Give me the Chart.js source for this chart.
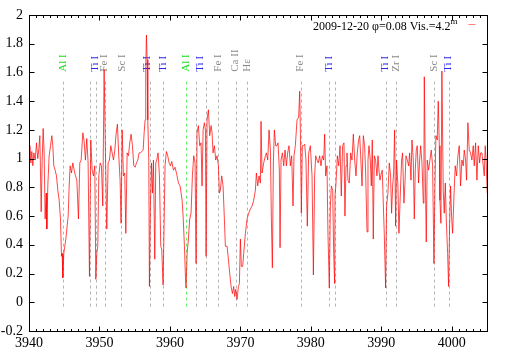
<!DOCTYPE html>
<html>
<head>
<meta charset="utf-8">
<script src="https://cdn.jsdelivr.net/npm/chart.js@4/dist/chart.umd.min.js"></script>
<style>
  html, body { margin: 0; padding: 0; background: #fff; }
</style>
</head>
<body>
<canvas id="myChart" width="509" height="356"></canvas>
<script>
// spectrum (wavelength in A, normalised flux)
const wavelength = [
  3940.00,3940.12,3940.26,3940.40,3940.54,3940.69,3940.88,3941.06,3941.25,3941.40,
  3941.54,3941.73,3941.87,3942.01,3942.15,3942.29,3942.44,3942.53,3942.67,3942.86,
  3943.05,3943.24,3943.38,3943.52,3943.71,3943.90,3944.09,3944.28,3944.47,3944.61,
  3944.71,3944.80,3944.94,3945.08,3945.23,3945.41,3945.56,3945.70,3945.84,3946.03,
  3946.22,3946.41,3946.60,3946.79,3947.02,3947.21,3947.40,3947.64,3947.83,3948.01,
  3948.20,3948.39,3948.58,3948.77,3948.96,3949.15,3949.34,3949.48,3949.62,3949.76,
  3949.91,3950.10,3950.28,3950.47,3950.66,3950.85,3951.04,3951.23,3951.42,3951.61,
  3951.80,3951.99,3952.18,3952.36,3952.55,3952.74,3952.93,3953.07,3953.22,3953.40,
  3953.59,3953.74,3953.93,3954.11,3954.30,3954.49,3954.68,3954.87,3955.06,3955.25,
  3955.44,3955.63,3955.82,3956.01,3956.20,3956.34,3956.48,3956.57,3956.67,3956.76,
  3956.86,3957.00,3957.09,3957.23,3957.38,3957.52,3957.66,3957.85,3957.99,3958.13,
  3958.32,3958.51,3958.70,3958.84,3959.03,3959.17,3959.31,3959.50,3959.69,3959.88,
  3960.07,3960.26,3960.50,3960.73,3960.97,3961.21,3961.44,3961.73,3961.87,3962.06,
  3962.20,3962.29,3962.44,3962.62,3962.81,3963.00,3963.19,3963.38,3963.57,3963.71,
  3963.85,3964.04,3964.23,3964.42,3964.56,3964.71,3964.89,3965.04,3965.13,3965.27,
  3965.46,3965.65,3965.84,3965.98,3966.12,3966.31,3966.50,3966.69,3966.88,3967.02,
  3967.16,3967.35,3967.54,3967.73,3967.87,3968.11,3968.30,3968.49,3968.68,3968.87,
  3969.05,3969.20,3969.34,3969.53,3969.72,3969.86,3970.00,3970.14,3970.33,3970.47,
  3970.71,3970.95,3971.18,3971.42,3971.66,3971.89,3972.13,3972.27,3972.46,3972.65,
  3972.84,3972.93,3973.07,3973.31,3973.55,3973.69,3973.88,3974.07,3974.26,3974.40,
  3974.54,3974.68,3974.82,3975.01,3975.20,3975.34,3975.53,3975.63,3975.77,3975.96,
  3976.15,3976.34,3976.53,3976.71,3976.90,3977.09,3977.28,3977.47,3977.61,3977.80,
  3978.04,3978.27,3978.42,3978.51,3978.65,3978.79,3978.98,3979.13,3979.31,3979.50,
  3979.69,3979.93,3980.17,3980.36,3980.54,3980.69,3980.88,3981.06,3981.25,3981.44,
  3981.63,3981.82,3981.96,3982.10,3982.29,3982.43,3982.62,3982.77,3982.91,3983.10,
  3983.24,3983.38,3983.43,3983.57,3983.76,3983.95,3984.14,3984.32,3984.51,3984.70,
  3984.84,3984.99,3985.13,3985.27,3985.46,3985.65,3985.84,3986.03,3986.22,3986.41,
  3986.59,3986.78,3986.93,3987.07,3987.26,3987.45,3987.63,3987.78,3987.97,3988.11,
  3988.25,3988.44,3988.58,3988.72,3988.86,3989.01,3989.19,3989.38,3989.53,3989.67,
  3989.81,3990.00,3990.14,3990.28,3990.42,3990.61,3990.75,3990.94,3991.13,3991.32,
  3991.46,3991.61,3991.75,3991.89,3992.03,3992.17,3992.36,3992.50,3992.69,3992.88,
  3993.02,3993.21,3993.36,3993.50,3993.69,3993.88,3994.02,3994.21,3994.35,3994.54,
  3994.68,3994.82,3994.96,3995.10,3995.29,3995.44,3995.58,3995.77,3995.96,3996.05,
  3996.10,3996.24,3996.38,3996.52,3996.71,3996.90,3997.09,3997.28,3997.47,3997.61,
  3997.75,3997.94,3998.08,3998.23,3998.32,3998.46,3998.60,3998.79,3998.93,3999.08,
  3999.22,3999.41,3999.55,3999.69,3999.83,3999.97,4000.12,4000.31,4000.49,4000.68,
  4000.87,4001.06,4001.25,4001.44,4001.63,4001.77,4001.96,4002.10,4002.29,4002.48,
  4002.67,4002.86,4003.05,4003.19,4003.38,4003.57,4003.76,4003.95,4004.09,4004.28,
  4004.47,4004.61,4004.75,4004.89,4005.03
];
const flux = [
  1.03,1.09,0.97,1.05,0.95,1.04,0.99,1.11,1.00,1.07,
  1.16,0.63,0.99,1.21,1.04,0.58,0.76,0.51,0.81,1.02,
  1.09,1.16,1.09,0.95,0.92,0.88,0.78,0.71,0.58,0.32,
  0.34,0.17,0.34,0.39,0.44,0.53,0.60,0.81,0.95,0.90,
  0.97,0.92,0.88,0.85,0.58,0.97,0.99,1.18,1.12,0.99,
  1.14,0.97,0.18,1.13,0.92,0.88,0.95,0.16,0.34,0.39,
  0.88,0.97,0.95,0.67,1.62,1.04,0.51,0.97,0.99,1.09,
  1.04,0.99,1.06,1.17,1.24,1.02,0.85,0.55,1.20,0.88,
  0.90,0.48,1.04,1.02,1.11,1.17,1.09,0.95,0.94,0.97,
  0.99,1.04,1.04,1.05,1.06,1.18,1.27,1.64,1.86,1.69,
  1.27,0.99,0.11,0.67,0.97,0.76,0.99,0.30,0.97,0.99,
  1.04,0.88,0.39,0.37,0.12,0.53,0.95,1.05,1.02,0.97,
  0.95,0.98,0.92,0.94,0.89,0.83,0.81,0.71,0.60,0.39,
  0.18,0.10,0.34,0.44,0.58,0.62,0.88,1.02,0.97,0.27,
  1.18,1.23,1.09,1.11,0.81,1.20,1.25,1.20,0.32,1.27,
  1.34,1.16,1.23,1.18,1.04,1.09,0.99,1.02,0.95,0.76,
  0.78,0.88,0.81,0.58,0.39,0.39,0.30,0.20,0.11,0.06,
  0.11,0.04,0.09,0.02,0.11,0.13,0.44,0.25,0.25,0.34,
  0.48,0.58,0.62,0.65,0.67,0.71,0.78,0.90,0.81,0.88,
  0.83,1.26,0.90,0.97,1.02,1.04,0.99,1.20,1.06,0.58,
  0.24,0.97,1.20,1.09,1.09,1.11,0.92,0.38,0.99,1.04,
  0.95,1.06,0.95,1.04,1.09,0.95,1.02,0.67,1.02,1.09,
  1.27,1.29,1.47,1.20,0.62,1.09,1.09,1.10,0.99,0.53,
  1.04,1.09,0.88,0.19,0.88,1.02,0.99,0.97,1.02,0.95,
  1.02,0.99,1.17,0.88,0.95,0.48,0.10,0.67,0.81,0.78,
  0.34,0.13,0.74,0.83,1.02,0.95,1.09,0.74,1.09,1.11,
  0.60,0.95,1.04,0.85,0.83,1.04,0.99,1.17,0.99,0.88,
  1.04,1.13,1.16,1.02,0.81,1.16,1.09,0.90,0.49,0.99,
  1.09,0.99,0.81,1.13,0.44,1.02,0.99,0.88,1.02,0.92,
  0.85,0.90,0.92,0.69,0.48,0.10,0.67,0.76,0.97,0.88,
  0.62,0.81,0.90,1.20,0.53,0.99,0.81,0.48,0.74,0.99,
  1.04,0.69,0.83,1.02,0.99,0.95,1.04,0.85,1.13,0.99,
  0.58,0.92,1.06,1.09,0.83,0.99,1.09,0.97,0.69,0.95,
  1.57,0.92,0.42,0.99,0.92,0.99,1.06,0.95,0.27,0.81,
  1.16,1.13,1.40,1.09,0.71,0.55,1.61,0.78,0.62,0.83,
  0.58,0.34,0.11,0.53,0.81,0.60,0.48,0.74,0.95,0.88,
  1.02,1.09,0.81,0.99,0.95,1.06,0.99,0.85,1.25,1.06,
  1.04,0.99,1.09,0.95,1.11,0.85,1.09,0.97,1.04,1.04,
  0.95,0.88,1.09,0.97,0.76
];

// identified lines (dashed markers)
const lineWave  = [3944.80, 3948.63, 3949.53, 3950.76, 3953.12, 3957.19, 3959.08, 3962.34, 3963.71, 3965.13,
                   3966.83, 3969.34, 3970.99, 3978.56, 3982.62, 3983.38, 3990.61, 3992.03, 3997.52, 3999.60];
const lineGreen = [true, false, false, false, false, false, false, true, false, false,
                   false, false, false, false, false, false, false, false, false, false];

// line labels
const labelWave = [3944.85, 3949.36, 3950.64, 3953.15, 3956.77, 3959.05, 3962.34, 3964.33, 3966.79,
                   3969.29, 3970.95, 3978.51, 3982.53, 3990.52, 3992.08, 3997.52, 3999.50];
const labelText = ['Al I', 'Ti I', 'Fe I', 'Sc I', 'Ti I', 'Ti I', 'Al I', 'Ti I', 'Fe I',
                   'Ca II', 'Hε', 'Fe I', 'Ti I', 'Ti I', 'Zr I', 'Sc I', 'Ti I'];
const labelKind = ['al', 'ti', 'x', 'x', 'ti', 'ti', 'al', 'ti', 'x',
                   'x', 'x', 'x', 'ti', 'ti', 'x', 'x', 'ti'];

const xTicks = [3940, 3950, 3960, 3970, 3980, 3990, 4000];
const yTicks = [-0.2, 0, 0.2, 0.4, 0.6, 0.8, 1, 1.2, 1.4, 1.6, 1.8, 2];
const keyText = '2009-12-20 φ=0.08 Vis.=4.2';

const kindColor = { al: '#22dd22', ti: '#2828f0', x: '#888888' };
const serif = '"Liberation Serif", "DejaVu Serif", serif';

// gnuplot look: dashed markers, labels, inward mirrored ticks, key
const gnuplotLook = {
    id: 'gnuplotLook',
    beforeDatasetsDraw(chart) {
        const ctx = chart.ctx, xs = chart.scales.x, ys = chart.scales.y;
        ctx.save();
        ctx.lineWidth = 1;
        ctx.setLineDash([3, 3]);
        const y0 = ys.getPixelForValue(-0.03), y1 = ys.getPixelForValue(1.555);
        lineWave.forEach((w, i) => {
            const px = Math.round(xs.getPixelForValue(w)) + 0.5;
            ctx.strokeStyle = lineGreen[i] ? '#66ee66' : '#b4b4b4';
            ctx.beginPath();
            ctx.moveTo(px, y0);
            ctx.lineTo(px, y1);
            ctx.stroke();
        });
        ctx.setLineDash([]);
        ctx.font = '11px ' + serif;
        ctx.textAlign = 'left';
        ctx.textBaseline = 'middle';
        const yb = ys.getPixelForValue(1.605);
        labelWave.forEach((w, i) => {
            ctx.save();
            ctx.translate(xs.getPixelForValue(w), yb);
            ctx.rotate(-Math.PI / 2);
            ctx.fillStyle = kindColor[labelKind[i]];
            ctx.fillText(labelText[i], 0, 0);
            ctx.restore();
        });
        ctx.restore();
    },
    afterDraw(chart) {
        const ctx = chart.ctx, xs = chart.scales.x, ys = chart.scales.y;
        const a = chart.chartArea;
        const L = Math.round(a.left) + 0.5, R = Math.round(a.right) + 0.5;
        const T = Math.round(a.top) + 0.5, B = Math.round(a.bottom) + 0.5;
        ctx.save();
        ctx.strokeStyle = '#000';
        ctx.lineWidth = 1;
        ctx.beginPath();
        for (let v = 3940; v <= 4005; v++) {
            const px = Math.round(xs.getPixelForValue(v)) + 0.5;
            const len = v % 10 === 0 ? 5 : 2.5;
            ctx.moveTo(px, B); ctx.lineTo(px, B - len);
            ctx.moveTo(px, T); ctx.lineTo(px, T + len);
        }
        yTicks.forEach(v => {
            const py = Math.round(ys.getPixelForValue(v)) + 0.5;
            ctx.moveTo(L, py); ctx.lineTo(L + 5, py);
            ctx.moveTo(R, py); ctx.lineTo(R - 5, py);
        });
        ctx.stroke();
        ctx.strokeRect(L, T, R - L, B - T);

        // key
        ctx.fillStyle = '#000';
        ctx.font = '12px ' + serif;
        ctx.textAlign = 'right';
        ctx.textBaseline = 'alphabetic';
        ctx.fillText(keyText, R - 37, T + 14);
        ctx.textAlign = 'left';
        ctx.font = '9px ' + serif;
        ctx.fillText('m', R - 37, T + 8);
        ctx.strokeStyle = 'rgba(255,0,0,0.5)';
        ctx.beginPath();
        ctx.moveTo(R - 19, T + 9);
        ctx.lineTo(R - 12, T + 9);
        ctx.stroke();
        ctx.restore();
    }
};

const data = {
    labels: wavelength,
    datasets: [{
        label: keyText,
        data: wavelength.map((w, i) => ({ x: w, y: flux[i] })),
        borderColor: 'rgba(255,0,0,0.72)',
        borderWidth: 1,
        pointRadius: 0,
        tension: 0,
        fill: false
    }]
};

const config = {
    type: 'line',
    data,
    options: {
        responsive: false,
        animation: false,
        layout: { padding: { top: 15, right: 22, left: 0, bottom: 0 } },
        plugins: { legend: { display: false }, tooltip: { enabled: false } },
        scales: {
            x: {
                type: 'linear',
                min: 3940, max: 4005,
                grid: { display: false, drawTicks: false },
                border: { display: false },
                afterFit: s => { s.height = 25; },
                afterBuildTicks: s => { s.ticks = xTicks.map(v => ({ value: v })); },
                ticks: {
                    color: '#000', padding: 4, maxRotation: 0, autoSkip: false,
                    font: { family: serif, size: 14 },
                    callback: v => String(v)
                }
            },
            y: {
                min: -0.2, max: 2,
                grid: { display: false, drawTicks: false },
                border: { display: false },
                afterFit: s => { s.width = 29; },
                afterBuildTicks: s => { s.ticks = yTicks.map(v => ({ value: v })); },
                ticks: {
                    color: '#000', padding: 6,
                    font: { family: serif, size: 14 },
                    callback: v => String(Math.round(v * 10) / 10)
                }
            }
        }
    },
    plugins: [gnuplotLook]
};

const myChart = new Chart(document.getElementById('myChart'), config);
</script>
</body>
</html>
